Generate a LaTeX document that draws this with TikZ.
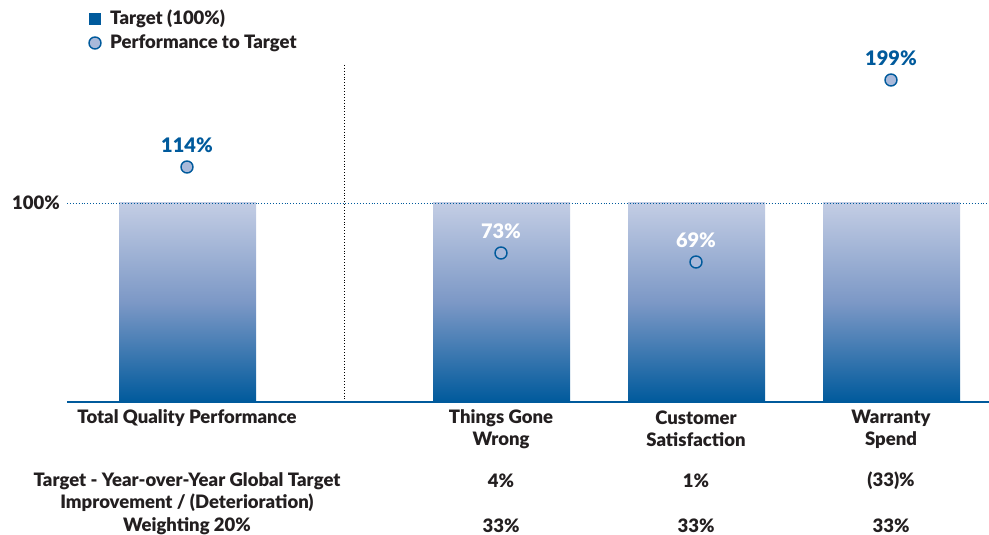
\documentclass[tikz,border=0pt]{standalone}
\usepackage{fontspec}
\setmainfont{Lato}[BoldFont={Lato Black}]
\usetikzlibrary{positioning}
\definecolor{barblue}{HTML}{005A9C}
\definecolor{barlight}{HTML}{C3CDE4}
\definecolor{barmid}{HTML}{7C98C6}
\definecolor{dotfill}{HTML}{A9B9DA}
\definecolor{txtdark}{HTML}{231F20}
\tikzstyle{bar} = [rectangle, minimum width=137pt, minimum height=199pt, inner sep=0pt, top color=barlight, bottom color=barblue, middle color=barmid, anchor=south]
\tikzstyle{dot} = [circle, minimum size=12pt, inner sep=0pt, draw=barblue, line width=1.4pt, fill=dotfill]
\tikzstyle{pct} = [font=\fontsize{20}{22}\selectfont\bfseries, text=barblue, inner sep=0pt]
\tikzstyle{lbl} = [font=\fontsize{18.5}{22}\selectfont\bfseries, text=txtdark, align=center, inner sep=0pt]
\tikzstyle{guide} = [dotted, line width=0.9pt]

\begin{document}
\begin{tikzpicture}[x=1pt, y=1pt, node distance=7pt]
\useasboundingbox (0,0) rectangle (989,535);

%% BARS

\node (tqp) [bar] at (187.5,133) {};
\node (tgw) [bar] at (501.5,133) {};
\node (cus) [bar] at (696.5,133) {};
\node (war) [bar] at (891.5,133) {};

%% GUIDES

\coordinate (axisL) at (67,133);
\coordinate (axisR) at (989,133);
\coordinate (fullL) at (67,332);
\coordinate (fullR) at (989,332);
\coordinate (splitT) at (344,470);
\coordinate (splitB) at (344,133);

\draw [guide, barblue] (fullL) -- (fullR);
\draw [guide, black] (splitT) -- (splitB);
\draw [barblue, line width=1.3pt] (axisL) -- (axisR);

\node (full_label) [lbl, anchor=east] at (60,332) {100\%};

%% DOTS

\node (tqp_dot) [dot] at (187,368) {};
\node (tgw_dot) [dot] at (501,282) {};
\node (cus_dot) [dot] at (696,273) {};
\node (war_dot) [dot] at (891,455) {};
\node (tqp_pct) [pct, above=of tqp_dot] {114\%};
\node (tgw_pct) [pct, above=of tgw_dot, text=white] {73\%};
\node (cus_pct) [pct, above=of cus_dot, text=white] {69\%};
\node (war_pct) [pct, above=of war_dot] {199\%};

%% LEGEND

\node (key_bar) [rectangle, fill=barblue, minimum size=12pt, inner sep=0pt] at (95,516) {};
\node (key_dot) [dot] at (95,492) {};
\node (key_bar_text) [lbl, anchor=west] at (110,516) {Target (100\%)};
\node (key_dot_text) [lbl, anchor=west] at (110,492) {Performance to Target};

%% LABELS

\node (tqp_name) [lbl] at (187,117) {Total Quality Performance};
\node (tgw_name) [lbl] at (501,106) {Things Gone\\Wrong};
\node (cus_name) [lbl] at (696,106) {Customer\\Satisfaction};
\node (war_name) [lbl] at (891,106) {Warranty\\Spend};

\node (row_target) [lbl] at (187,43) {Target - Year-over-Year Global Target\\Improvement / (Deterioration)};
\node (row_weight) [lbl] at (187,9) {Weighting 20\%};
\node (tgw_target) [lbl] at (501,54) {4\%};
\node (cus_target) [lbl] at (696,54) {1\%};
\node (war_target) [lbl] at (891,54) {(33)\%};
\node (tgw_weight) [lbl] at (501,9) {33\%};
\node (cus_weight) [lbl] at (696,9) {33\%};
\node (war_weight) [lbl] at (891,9) {33\%};

\end{tikzpicture}
\end{document}
